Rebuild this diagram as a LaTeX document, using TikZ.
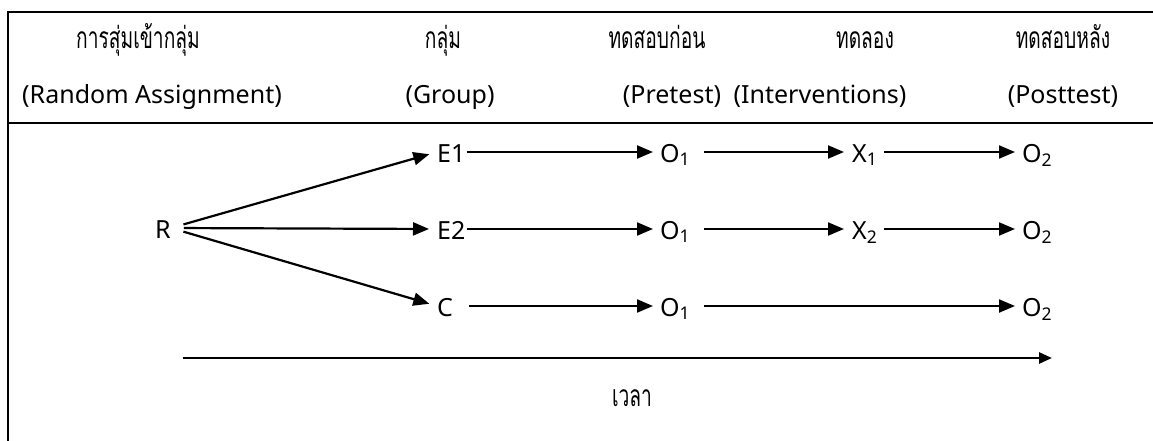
\documentclass[tikz,border=0pt]{standalone}
\usepackage{fontspec}
\setmainfont{Noto Sans}
\newfontfamily\thaifont[Script=Thai,FakeStretch=0.64]{Loma}
\usetikzlibrary{arrows.meta}

\begin{document}
\begin{tikzpicture}[x=1pt,y=-1pt,
  lbl/.style={inner sep=0pt,font=\fontsize{25}{29}\selectfont},
  thai/.style={inner sep=0pt,font=\thaifont\fontsize{30}{34}\selectfont},
  item/.style={lbl,anchor=west,text height=20pt,text depth=0pt},
  flow/.style={line width=2.2pt,-{Triangle[length=16pt,width=13pt]}},
  frame/.style={line width=2.8pt}]
  \useasboundingbox (0,0) rectangle (1153,441);

  % table rules: top, left and the line under the heading
  \draw[frame] (1153,12) -- (8,12) -- (8,441);
  \draw[frame] (8,123) -- (1153,123);

  % heading, Thai line
  \node[thai,anchor=base] (h1) at (138,49) {การสุ่มเข้ากลุ่ม};
  \node[thai,anchor=base] (h2) at (443,49) {กลุ่ม};
  \node[thai,anchor=base] (h3) at (657,49) {ทดสอบก่อน};
  \node[thai,anchor=base] (h4) at (865,49) {ทดลอง};
  \node[thai,anchor=base] (h5) at (1063,49) {ทดสอบหลัง};

  % heading, English line
  \node[lbl,anchor=base] (e1) at (152,103) {(Random Assignment)};
  \node[lbl,anchor=base] (e2) at (450,103) {(Group)};
  \node[lbl,anchor=base] (e3) at (672,103) {(Pretest)};
  \node[lbl,anchor=base] (e4) at (820,103) {(Interventions)};
  \node[lbl,anchor=base] (e5) at (1063,103) {(Posttest)};

  % design
  \node[item] (R) at (155,228) {R};

  \node[item] (E1) at (437,152) {E1};
  \node[item] (O11) at (660,152) {O\textsubscript{1}};
  \node[item] (X1) at (852,152) {X\textsubscript{1}};
  \node[item] (O21) at (1022,152) {O\textsubscript{2}};

  \node[item] (E2) at (437,229) {E2};
  \node[item] (O12) at (660,229) {O\textsubscript{1}};
  \node[item] (X2) at (852,229) {X\textsubscript{2}};
  \node[item] (O22) at (1022,229) {O\textsubscript{2}};

  \node[item] (C) at (437,306) {C};
  \node[item] (O13) at (660,306) {O\textsubscript{1}};
  \node[item] (O23) at (1022,306) {O\textsubscript{2}};

  % random assignment to groups
  \draw[flow,shorten <=13pt,shorten >=8pt] (R.east) -- (E1.west);
  \draw[flow,shorten <=13pt,shorten >=8pt] (R.east) -- (E2.west);
  \draw[flow,shorten <=13pt,shorten >=8pt] (R.east) -- (C.west);

  % experimental group 1
  \draw[flow,shorten <=1pt,shorten >=7pt] (E1.east) -- (O11.west);
  \draw[flow,shorten <=14pt,shorten >=8pt] (O11.east) -- (X1.west);
  \draw[flow,shorten <=6pt,shorten >=7pt] (X1.east) -- (O21.west);

  % experimental group 2
  \draw[flow,shorten <=1pt,shorten >=7pt] (E2.east) -- (O12.west);
  \draw[flow,shorten <=14pt,shorten >=8pt] (O12.east) -- (X2.west);
  \draw[flow,shorten <=6pt,shorten >=7pt] (X2.east) -- (O22.west);

  % control group
  \draw[flow,shorten <=16pt,shorten >=7pt] (C.east) -- (O13.west);
  \draw[flow,shorten <=14pt,shorten >=7pt] (O13.east) -- (O23.west);

  % time axis
  \coordinate (t0) at (183,358);
  \coordinate (t1) at (1052,358);
  \draw[line width=2.6pt,-{Triangle[length=13pt,width=11pt]}] (t0) -- (t1);
  \node[thai,anchor=base] (time) at (632,406) {เวลา};
\end{tikzpicture}
\end{document}
